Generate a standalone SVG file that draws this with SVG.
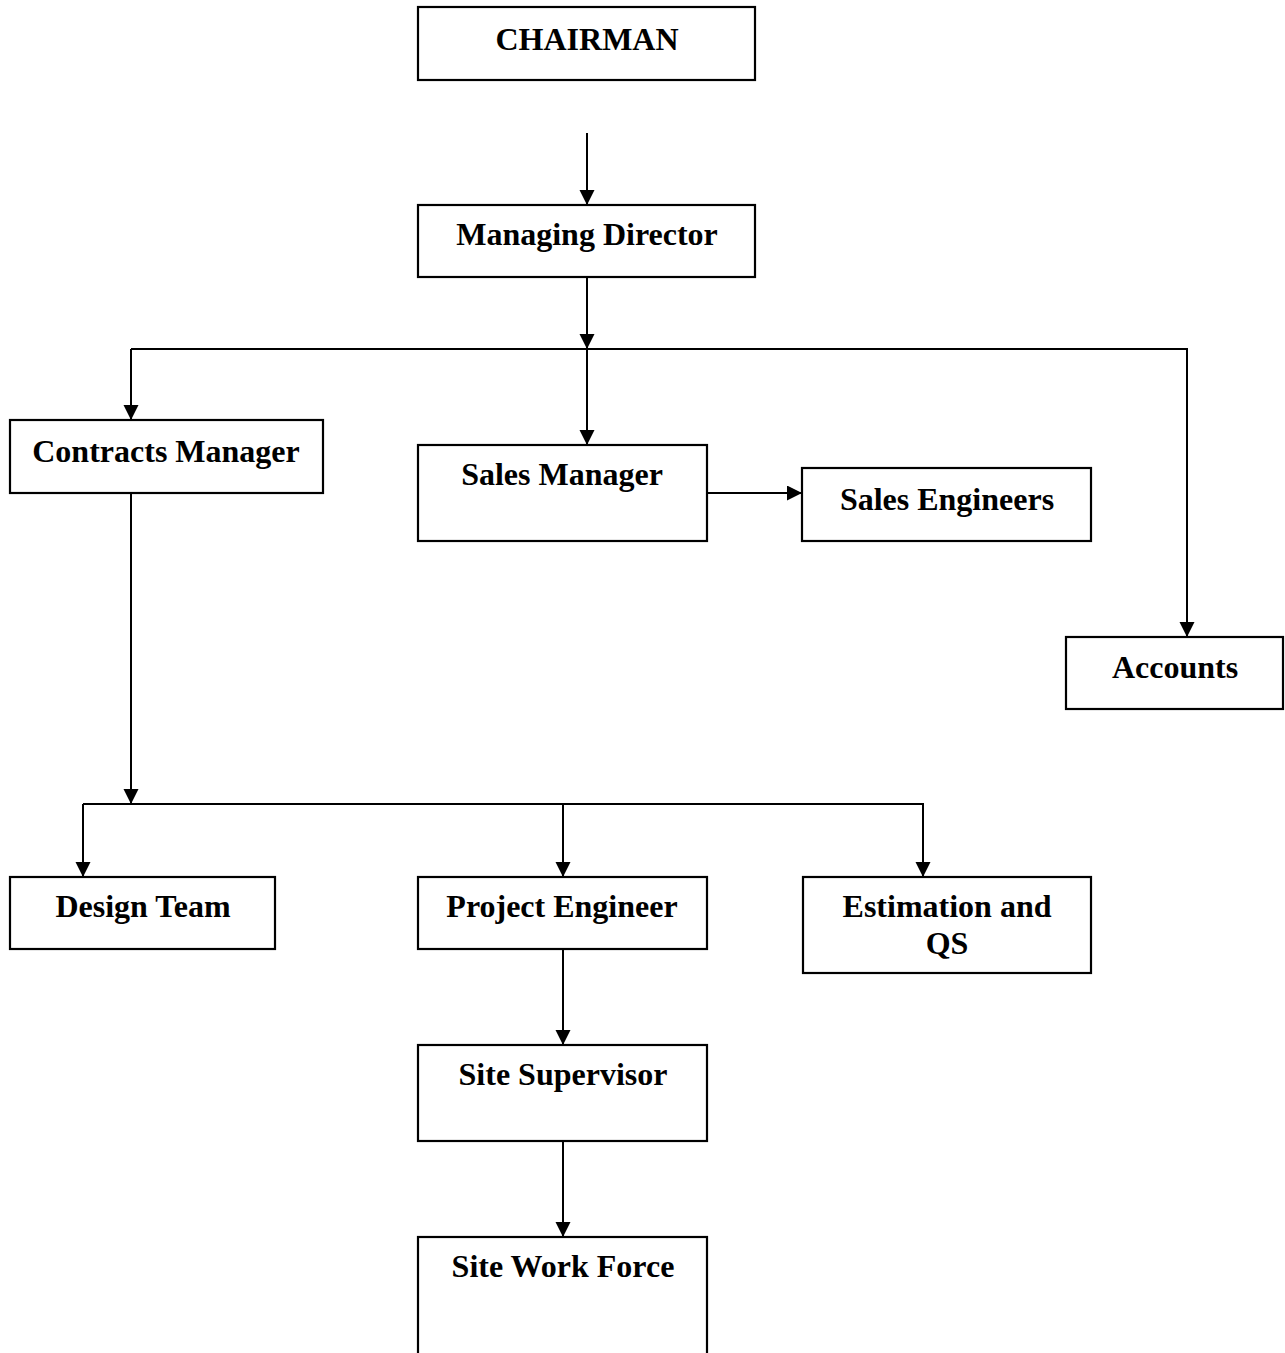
<svg xmlns="http://www.w3.org/2000/svg" width="1285" height="1353" viewBox="0 0 1285 1353">
<style>
.box{fill:#fff;stroke:#000;stroke-width:2.2}
.lbl{font-family:"Liberation Serif","Times New Roman",serif;font-weight:bold;font-size:32px;fill:#000;text-anchor:middle}
.con{fill:none;stroke:#000;stroke-width:2}
</style>
<defs>
<marker id="ah" markerUnits="userSpaceOnUse" markerWidth="16" markerHeight="16" refX="15" refY="7.5" orient="auto">
<path d="M0,0 L15,7.5 L0,15 z" fill="#000"/>
</marker>
</defs>
<rect width="1285" height="1353" fill="#fff"/>
<g id="connectors">
<path class="con" d="M587,133 V205" marker-end="url(#ah)"/>
<path class="con" d="M587,277 V349" marker-end="url(#ah)"/>
<path class="con" d="M131,349 H1187 V637" marker-end="url(#ah)"/>
<path class="con" d="M131,349 V420" marker-end="url(#ah)"/>
<path class="con" d="M587,349 V445" marker-end="url(#ah)"/>
<path class="con" d="M707,493 H802" marker-end="url(#ah)"/>
<path class="con" d="M131,493 V804" marker-end="url(#ah)"/>
<path class="con" d="M83,804 H923 V877" marker-end="url(#ah)"/>
<path class="con" d="M83,804 V877" marker-end="url(#ah)"/>
<path class="con" d="M563,804 V877" marker-end="url(#ah)"/>
<path class="con" d="M563,949 V1045" marker-end="url(#ah)"/>
<path class="con" d="M563,1141 V1237" marker-end="url(#ah)"/>
</g>
<g id="chairman"><rect class="box" x="418" y="7" width="337" height="73"/><text class="lbl" x="587" y="50">CHAIRMAN</text></g>
<g id="managing-director"><rect class="box" x="418" y="205" width="337" height="72"/><text class="lbl" x="587" y="245">Managing Director</text></g>
<g id="contracts-manager"><rect class="box" x="10" y="420" width="313" height="73"/><text class="lbl" x="166" y="462">Contracts Manager</text></g>
<g id="sales-manager"><rect class="box" x="418" y="445" width="289" height="96"/><text class="lbl" x="562" y="485">Sales Manager</text></g>
<g id="sales-engineers"><rect class="box" x="802" y="468" width="289" height="73"/><text class="lbl" x="947" y="510">Sales Engineers</text></g>
<g id="accounts"><rect class="box" x="1066" y="637" width="217" height="72"/><text class="lbl" x="1175" y="678">Accounts</text></g>
<g id="design-team"><rect class="box" x="10" y="877" width="265" height="72"/><text class="lbl" x="143" y="917">Design Team</text></g>
<g id="project-engineer"><rect class="box" x="418" y="877" width="289" height="72"/><text class="lbl" x="562" y="917">Project Engineer</text></g>
<g id="estimation-qs"><rect class="box" x="803" y="877" width="288" height="96"/><text class="lbl" x="947" y="917">Estimation and</text><text class="lbl" x="947" y="954">QS</text></g>
<g id="site-supervisor"><rect class="box" x="418" y="1045" width="289" height="96"/><text class="lbl" x="563" y="1085">Site Supervisor</text></g>
<g id="site-work-force"><rect class="box" x="418" y="1237" width="289" height="130"/><text class="lbl" x="563" y="1277">Site Work Force</text></g>
</svg>
